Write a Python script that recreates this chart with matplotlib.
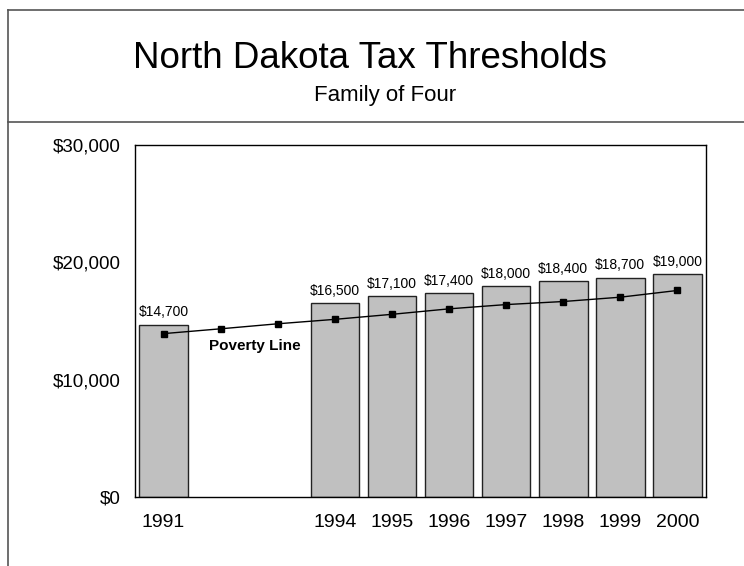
import matplotlib
matplotlib.use("Agg")
import matplotlib.pyplot as plt
from matplotlib.lines import Line2D

plt.rcParams['font.family'] = ['Liberation Sans', 'DejaVu Sans']

# Data
bar_years = [1991, 1994, 1995, 1996, 1997, 1998, 1999, 2000]
bar_values = [14700, 16500, 17100, 17400, 18000, 18400, 18700, 19000]
poverty_years = [1991, 1992, 1993, 1994, 1995, 1996, 1997, 1998, 1999, 2000]
poverty_values = [13924, 14335, 14763, 15141, 15569, 16036, 16400, 16660, 17029, 17603]
y_ticks = [0, 10000, 20000, 30000]
y_tick_labels = ["$0", "$10,000", "$20,000", "$30,000"]

fig = plt.figure(figsize=(7.44, 5.66), dpi=100)

# Title box lines
fig.add_artist(Line2D([8/744, 8/744], [0, 1 - 10/566], color='#555555', lw=1.2))
fig.add_artist(Line2D([8/744, 1], [1 - 10/566, 1 - 10/566], color='#555555', lw=1.2))
fig.add_artist(Line2D([8/744, 1], [1 - 122/566, 1 - 122/566], color='#555555', lw=1.2))

fig.text(370/744, 1 - 58/566, "North Dakota Tax Thresholds", ha='center', va='center', fontsize=26.5)
fig.text(385/744, 1 - 95/566, "Family of Four", ha='center', va='center', fontsize=16)

ax = fig.add_axes([135/744, 1 - 497/566, (706 - 135)/744, (497 - 145)/566])

bars = ax.bar(bar_years, bar_values, width=0.85, color='#C0C0C0', edgecolor='#222222', linewidth=1)
for x, v in zip(bar_years, bar_values):
    ax.text(x, v + 450, "${:,}".format(v), ha='center', va='bottom', fontsize=10)

ax.plot(poverty_years, poverty_values, color='black', lw=1, marker='s', markersize=5)
ax.text(1992.6, 12900, "Poverty Line", ha='center', va='center', fontsize=11, fontweight='bold')

ax.set_xlim(1990.5, 2000.5)
ax.set_ylim(0, 30000)
ax.set_xticks(bar_years)
ax.set_xticklabels([str(y) for y in bar_years], fontsize=14)
ax.tick_params(length=0)
ax.set_yticks(y_ticks)
ax.set_yticklabels(y_tick_labels, fontsize=13.5)
ax.tick_params(axis='x', pad=12)
ax.tick_params(axis='y', pad=10)
for s in ax.spines.values():
    s.set_linewidth(1)

fig.savefig("out.png", dpi=100)
